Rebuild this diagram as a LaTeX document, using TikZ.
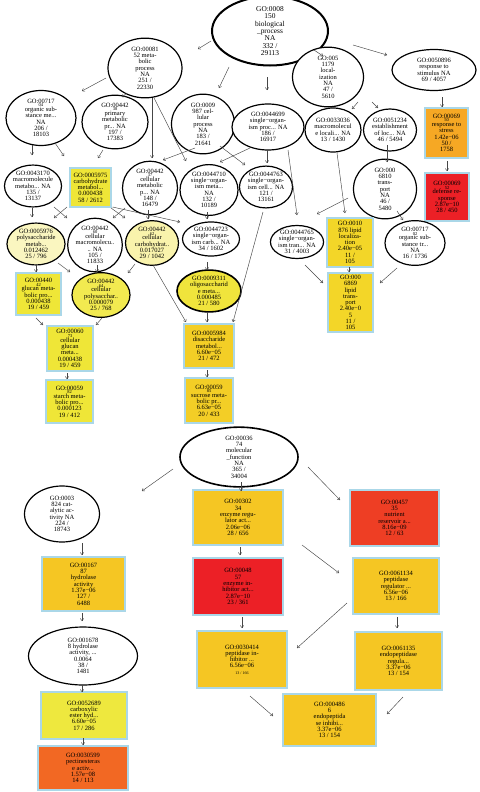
\documentclass[tikz,border=0pt]{standalone}
\usepackage{fontspec}
\setmainfont{Liberation Serif}
\usetikzlibrary{arrows.meta,calc,shapes.geometric}
\definecolor{boxblue}{RGB}{170,215,232}
\definecolor{arrgray}{RGB}{70,70,70}
\definecolor{stressC}{RGB}{246,168,36}
\definecolor{redC}{RGB}{236,32,38}
\definecolor{nutrC}{RGB}{238,62,36}
\definecolor{yelC}{RGB}{239,230,55}
\definecolor{lipC}{RGB}{243,214,40}
\definecolor{disC}{RGB}{243,206,38}
\definecolor{goldC}{RGB}{245,198,35}
\definecolor{carbxC}{RGB}{238,232,62}
\definecolor{pectC}{RGB}{242,104,35}
\definecolor{lyelA}{RGB}{250,246,192}
\definecolor{lyelB}{RGB}{249,243,172}
\definecolor{yelE}{RGB}{242,234,80}
\definecolor{yelO}{RGB}{240,228,60}
\newcommand\gosplit[2]{#1\\[-2.7pt]{\fontsize{4.5}{4.5}\selectfont #2}\\[-1.6pt]}
\begin{document}
\begin{tikzpicture}[x=1pt,y=-1pt,
  every node/.style={font=\fontsize{6.5}{6.3}\selectfont, align=center, inner sep=0pt},
  ell/.style={ellipse, draw=black, line width=1.2pt, fill=white},
  gobox/.style={rectangle, draw=boxblue, line width=1.1pt},
  arr/.style={draw=arrgray, line width=0.45pt, -{To[length=2.6pt,width=3.6pt]}}]
\useasboundingbox[fill=white] (0,0) rectangle (479,792);

% ---- biological process part ----
\node[ell, line width=2pt, minimum width=116pt, minimum height=55pt, font=\fontsize{7.4}{7.3}\selectfont] (root) at (270,31) {GO:0008\\150\\biological\\\_process\\NA\\332 /\\29113};
\node[ell, minimum width=74pt, minimum height=50pt] (met) at (145,68) {GO:00081\\52 meta-\\bolic\\process\\NA\\251 /\\22330};
\node[ell, minimum width=70pt, minimum height=55pt] (org) at (41,118) {\gosplit{GO:00717}{04}organic sub-\\stance me...\\NA\\206 /\\18103};
\node[ell, minimum width=66pt, minimum height=50pt] (prim) at (115,122) {\gosplit{GO:00442}{38}primary\\metabolic\\pr... NA\\197 /\\17383};
\node[ell, minimum width=63pt, minimum height=52pt] (cell) at (203,124) {GO:0009\\987 cel-\\lular\\process\\NA\\183 /\\21641};
\node[ell, minimum width=72pt, minimum height=46pt] (sop) at (268,127) {GO:0044699\\single−organ-\\ism proc... NA\\186 /\\16917};
\node[ell, minimum width=71pt, minimum height=57pt] (loc) at (328,77) {GO:005\\1179\\local-\\ization\\NA\\47 /\\5610};
\node[ell, minimum width=84pt, minimum height=41pt] (stim) at (434,70) {GO:0050896\\response to\\stimulus NA\\69 / 4057};
\node[ell, minimum width=56pt, minimum height=44pt] (macloc) at (333,130) {GO:0033036\\macromolecul\\e locali... NA\\13 / 1430};
\node[ell, minimum width=53pt, minimum height=42pt] (estloc) at (390,130) {GO:0051234\\establishment\\of loc... NA\\46 / 5494};
\node[gobox, fill=stressC, minimum width=43pt, minimum height=50pt] (stress) at (446.5,133) {\gosplit{GO:00069}{50}response to\\stress\\1.42e−06\\50 /\\1758};
\node[gobox, fill=redC, minimum width=44pt, minimum height=48pt] (defense) at (447,197) {\gosplit{GO:00069}{52}defense re-\\sponse\\2.87e−10\\28 / 450};

\node[ell, minimum width=57pt, minimum height=39pt] (mm) at (33,186) {GO:0043170\\macromolecule\\metabo... NA\\135 /\\13137};
\node[gobox, fill=yelC, minimum width=41pt, minimum height=39pt] (carb) at (90.5,187.5) {GO:0005975\\carbohydrate\\metabol...\\0.000438\\58 / 2612};
\node[ell, minimum width=55pt, minimum height=44pt] (cmet) at (150,188) {\gosplit{GO:00442}{37}cellular\\metabolic\\p... NA\\148 /\\16479};
\node[ell, minimum width=58pt, minimum height=42pt] (smet) at (209,190) {GO:0044710\\single−organ-\\ism meta...\\NA\\132 /\\10189};
\node[ell, minimum width=53pt, minimum height=38pt] (scell) at (266,187) {GO:0044763\\single−organ-\\ism cell... NA\\121 /\\13161};
\node[ell, minimum width=63pt, minimum height=43pt] (transp) at (385,189) {GO:000\\6810\\trans-\\port\\NA\\46 /\\5480};

\node[ell, fill=lyelA, minimum width=58pt, minimum height=36pt] (psac) at (36,244) {GO:0005976\\polysaccharide\\metab...\\0.012462\\25 / 796};
\node[ell, minimum width=53pt, minimum height=40pt] (cmm) at (95,245) {\gosplit{GO:00442}{60}cellular\\macromolecu..\\.. NA\\105 /\\11833};
\node[ell, fill=lyelB, minimum width=53pt, minimum height=37pt] (ccarb) at (152,243) {\gosplit{GO:00442}{62}cellular\\carbohydrat..\\0.017027\\29 / 1042};
\node[ell, minimum width=57pt, minimum height=34pt] (scarb) at (211,239) {GO:0044723\\single−organ-\\ism carb... NA\\34 / 1602};
\node[ell, minimum width=52pt, minimum height=33pt] (stran) at (297,242) {GO:0044765\\single−organ-\\ism tran... NA\\31 / 4003};
\node[gobox, fill=lipC, minimum width=46pt, minimum height=49pt] (lipidloc) at (350,242.5) {GO:0010\\876 lipid\\localiza-\\tion\\2.40e−05\\11 /\\105};
\node[ell, minimum width=60pt, minimum height=43pt] (ost) at (415,243) {\gosplit{GO:00717}{02}organic sub-\\stance tr...\\NA\\16 / 1736};

\node[gobox, fill=yelC, minimum width=45pt, minimum height=42pt] (glucan) at (38.5,294) {\gosplit{GO:00440}{42}glucan meta-\\bolic pro...\\0.000438\\19 / 459};
\node[ell, fill=yelE, minimum width=58pt, minimum height=44pt] (cpsac) at (101,295) {\gosplit{GO:00442}{64}cellular\\polysacchar..\\0.000079\\25 / 768};
\node[ell, fill=yelO, line width=1.6pt, minimum width=64pt, minimum height=40pt] (oligo) at (209,291) {GO:0009311\\oligosaccharid\\e meta...\\0.000485\\21 / 580};
\node[gobox, fill=lipC, minimum width=45pt, minimum height=59pt] (lipidtr) at (350.5,302.5) {GO:000\\6869\\lipid\\trans-\\port\\2.40e−0\\5\\11 /\\105};

\node[gobox, fill=yelC, minimum width=46pt, minimum height=45pt] (cglucan) at (70,348.5) {\gosplit{GO:00060}{73}cellular\\glucan\\meta...\\0.000438\\19 / 459};
\node[gobox, fill=disC, minimum width=50pt, minimum height=44pt] (disacch) at (209,346) {GO:0005984\\disaccharide\\metabol...\\6.60e−05\\21 / 472};
\node[gobox, fill=yelC, minimum width=47pt, minimum height=43pt] (starch) at (69.5,401.5) {\gosplit{GO:00059}{82}starch meta-\\bolic pro...\\0.000123\\19 / 412};
\node[gobox, fill=disC, minimum width=48pt, minimum height=45pt] (sucrose) at (209,400.5) {\gosplit{GO:00059}{85}sucrose meta-\\bolic pr...\\6.63e−05\\20 / 433};

% ---- molecular function part ----
\node[ell, line width=1.6pt, minimum width=118pt, minimum height=50pt] (mf) at (239,457) {GO:00036\\74\\molecular\\\_function\\NA\\365 /\\34004};
\node[ell, minimum width=75pt, minimum height=56pt] (cat) at (62,514) {GO:0003\\824 cat-\\alytic ac-\\tivity NA\\224 /\\18743};
\node[gobox, fill=goldC, minimum width=90pt, minimum height=55pt] (enzreg) at (238,517.5) {GO:00302\\34\\enzyme regu-\\lator act...\\2.06e−06\\28 / 656};
\node[gobox, fill=nutrC, minimum width=89pt, minimum height=56pt] (nutr) at (394.5,518) {GO:00457\\35\\nutrient\\reservoir a...\\8.16e−09\\12 / 63};
\node[gobox, fill=goldC, minimum width=83pt, minimum height=54pt] (hydro) at (83.5,584) {GO:00167\\87\\hydrolase\\activity\\1.37e−06\\127 /\\6488};
\node[gobox, fill=redC, minimum width=90pt, minimum height=57pt] (enzinh) at (238,586.5) {GO:00048\\57\\enzyme in-\\hibitor act...\\2.87e−10\\23 / 361};
\node[gobox, fill=goldC, minimum width=86pt, minimum height=56pt] (pepreg) at (396,586) {GO:0061134\\peptidase\\regulator ...\\6.56e−06\\13 / 166};
\node[ell, minimum width=109pt, minimum height=58pt] (este) at (83,656) {GO:001678\\8 hydrolase\\activity, ...\\0.0064\\38 /\\1481};
\node[gobox, fill=goldC, minimum width=90pt, minimum height=57pt] (pepinh) at (242,659.5) {GO:0030414\\peptidase in-\\hibitor ...\\6.56e−06\\{\fontsize{4}{4}\selectfont 13 / 166}};
\node[gobox, fill=goldC, minimum width=87pt, minimum height=58pt] (endoreg) at (398.5,661) {GO:0061135\\endopeptidase\\regula...\\3.37e−06\\13 / 154};
\node[gobox, fill=carbxC, minimum width=86pt, minimum height=47pt] (carbox) at (84,715.5) {GO:0052689\\carboxylic\\ester hyd...\\6.60e−05\\17 / 286};
\node[gobox, fill=goldC, minimum width=93pt, minimum height=52pt] (endoinh) at (329.5,720) {GO:000486\\6\\endopeptida\\se inhibi...\\3.37e−06\\13 / 154};
\node[gobox, fill=pectC, minimum width=90pt, minimum height=44pt] (pectin) at (83,768) {GO:0030599\\pectinesteras\\e activ...\\1.57e−08\\14 / 113};

% ---- connectors ----
\draw[arr] ($(root)+(-59,10)$) -- ($(met)+(53,-19)$);
\draw[arr] ($(root)+(-41,36)$) -- ($(cell)+(16,-36)$);
\draw[arr] ($(root)+(-3,46)$) -- ($(sop)+(-1,-37)$);
\draw[arr] ($(root)+(44,19)$) -- ($(loc)+(-5,-21)$);
\draw[arr] ($(root)+(83,14)$) -- ($(stim)+(-47,-15)$);
\draw[arr] ($(met)+(-39,10)$) -- ($(org)+(41,-27)$);
\draw[arr] ($(met)+(-18,25)$) -- ($(prim)+(7,-25)$);
\draw[arr] ($(met)+(7,30)$) -- ($(cmet)+(2,-30)$);
\draw[arr] ($(met)+(9,30)$) -- ($(smet)+(-23,-29)$);
\draw[arr] ($(cell)+(-8,24)$) -- ($(cmet)+(13,-28)$);
\draw[arr] ($(cell)+(17,22)$) -- ($(scell)+(-21,-22)$);
\draw[arr] ($(sop)+(-18,21)$) -- ($(smet)+(11,-28)$);
\draw[arr] ($(sop)+(-1,23)$) -- ($(scell)+(1,-24)$);
\draw[arr] ($(sop)+(20,23)$) -- ($(stran)+(0,-27)$);
\draw[arr] ($(loc)+(30,25)$) -- ($(macloc)+(19,-21)$);
\draw[arr] ($(loc)+(44,25)$) -- ($(estloc)+(-12,-22)$);
\draw[arr] ($(stim)+(8,27)$) -- ($(stress)+(-4.5,-26)$);
\draw[arr] ($(stress)+(0.5,28)$) -- ($(defense)+(0,-26)$);
\draw[arr] ($(estloc)+(-3,15)$) -- ($(transp)+(2,-27)$);
\draw[arr] ($(macloc)+(4,23)$) -- ($(lipidloc)+(-5,-29.5)$);
\draw[arr] ($(transp)+(-37,9)$) -- ($(stran)+(20,-28)$);
\draw[arr] ($(transp)+(12,22)$) -- ($(ost)+(-12,-23)$);
\draw[arr] ($(org)+(-9,27)$) -- ($(mm)+(-1,-31)$);
\draw[arr] ($(org)+(14,25)$) -- ($(carb)+(-26.5,-31.5)$);
\draw[arr] ($(prim)+(-12,28)$) -- ($(carb)+(7.5,-29.5)$);
\draw[arr] ($(mm)+(-1,22)$) -- ($(psac)+(-4,-27)$);
\draw[arr] ($(mm)+(21,21)$) -- ($(cmm)+(-28,-27)$);
\draw[arr] ($(carb)+(-23.5,19.5)$) -- ($(psac)+(18,-26)$);
\draw[arr] ($(cmet)+(-25,20)$) -- ($(cmm)+(18,-27)$);
\draw[arr] ($(carb)+(20.5,20.5)$) -- ($(ccarb)+(-27,-25)$);
\draw[arr] ($(carb)+(22,19.5)$) -- ($(scarb)+(-31,-17)$);
\draw[arr] ($(cmet)+(-2,22)$) -- ($(ccarb)+(-4,-24)$);
\draw[arr] ($(smet)+(-2,22)$) -- ($(scarb)+(-4,-20)$);
\draw[arr] ($(cmm)+(2,20)$) -- ($(cpsac)+(-4,-23)$);
\draw[arr] ($(psac)+(22,19)$) -- ($(cpsac)+(-31,-23)$);
\draw[arr] ($(psac)+(0,20)$) -- ($(glucan)+(-2.5,-22)$);
\draw[arr] ($(ccarb)+(-17,21)$) -- ($(cpsac)+(27,-22)$);
\draw[arr] ($(ccarb)+(1,22)$) -- ($(disacch)+(-23,-24)$);
\draw[arr] ($(scarb)+(-4,23)$) -- ($(oligo)+(-2,-21)$);
\draw[arr] ($(oligo)+(-2,21)$) -- ($(disacch)+(-2,-24)$);
\draw[arr] ($(scell)+(-3,25)$) -- ($(disacch)+(24,-24)$);
\draw[arr] ($(stran)+(8,23)$) -- ($(lipidtr)+(-27.5,-19.5)$);
\draw[arr] ($(lipidloc)+(-1,24.5)$) -- ($(lipidtr)+(-1.5,-30.5)$);
\draw[arr] ($(ost)+(-18,25)$) -- ($(lipidtr)+(29.5,-19.5)$);
\draw[arr] ($(glucan)+(-2.5,24)$) -- ($(cglucan)+(-27,-23.5)$);
\draw[arr] ($(cpsac)+(1,23)$) -- ($(cglucan)+(26,-23.5)$);
\draw[arr] ($(cglucan)+(-3,24.5)$) -- ($(starch)+(-2.5,-22.5)$);
\draw[arr] ($(disacch)+(-2,24)$) -- ($(sucrose)+(-2,-23.5)$);

\draw[arr] ($(mf)+(-66,12)$) -- ($(cat)+(80,-23)$);
\draw[arr] ($(mf)+(2,25)$) -- ($(enzreg)+(3,-26.5)$);
\draw[arr] ($(mf)+(69,10)$) -- ($(nutr)+(-54.5,-18)$);
\draw[arr] ($(cat)+(20,29)$) -- ($(hydro)+(-1.5,-29)$);
\draw[arr] ($(hydro)+(-1.5,29)$) -- ($(este)+(-1,-35)$);
\draw[arr] ($(enzreg)+(2,29.5)$) -- ($(enzinh)+(2,-31.5)$);
\draw[arr] ($(enzreg)+(64,27.5)$) -- ($(pepreg)+(-57,-13)$);
\draw[arr] ($(enzinh)+(4,30.5)$) -- ($(pepinh)+(0,-31.5)$);
\draw[arr] ($(pepreg)+(-49,17)$) -- ($(pepinh)+(55,-11.5)$);
\draw[arr] ($(pepreg)+(1,31)$) -- ($(endoreg)+(-1.5,-33)$);
\draw[arr] ($(este)+(-1,29)$) -- ($(carbox)+(-2,-23.5)$);
\draw[arr] ($(carbox)+(-1,22.5)$) -- ($(pectin)+(0,-23)$);
\draw[arr] ($(pepinh)+(8,36.5)$) -- ($(endoinh)+(-56.5,-4)$);
\draw[arr] ($(endoreg)+(4.5,36)$) -- ($(endoinh)+(57.5,-6)$);
\end{tikzpicture}
\end{document}
